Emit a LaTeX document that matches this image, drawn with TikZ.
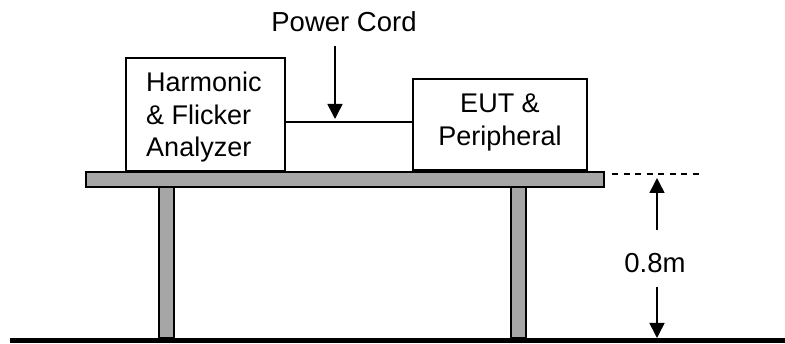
\documentclass[tikz,border=0pt]{standalone}
\usepackage{fontspec}
\setmainfont{Liberation Sans}
\usetikzlibrary{arrows.meta}
\definecolor{tablegray}{RGB}{166,166,166}
\tikzset{
  box/.style={draw=black, line width=1.6pt, fill=white, inner sep=0pt},
  lbl/.style={font=\fontsize{27}{32.5}\selectfont, inner sep=0pt},
  wood/.style={draw=black, line width=1.5pt, fill=tablegray},
  cord/.style={line width=1.4pt},
  pointer/.style={line width=1.5pt, -{Triangle[width=15pt,length=15pt]}},
}
\begin{document}
\begin{tikzpicture}[x=1pt,y=-1pt]
\useasboundingbox (0,0) rectangle (785,344);
% table
\draw[wood] (159,186) rectangle (174,338);
\draw[wood] (511,186) rectangle (526,338);
\draw[wood] (86,172) rectangle (604,187);
% ground
\draw[line width=5pt] (10,341) -- (785,341);
% boxes
\node[box, minimum width=159pt, minimum height=113pt] (ana) at (205.5,114.5) {};
\node[lbl, align=left] (anatext) at (204,117.5) {Harmonic\\\& Flicker\\Analyzer};
\node[box, minimum width=174pt, minimum height=91pt] (eut) at (500,124.5) {};
\node[lbl, align=center] (euttext) at (500,122.5) {EUT \&\\Peripheral};
% cord
\coordinate (cordL) at (285,122);
\coordinate (cordR) at (413,122);
\draw[cord] (cordL) -- (cordR);
% power cord label and arrow
\node[lbl, font=\fontsize{27.5}{32}\selectfont] (pc) at (344,22) {Power Cord};
\coordinate (pcstart) at (335,46);
\coordinate (pcend) at (335,119);
\draw[pointer] (pcstart) -- (pcend);
% height dimension
\coordinate (dashL) at (612,174);
\coordinate (dashR) at (702,174);
\draw[line width=1.3pt, dash pattern=on 6pt off 5.5pt] (dashL) -- (dashR);
\node[lbl, font=\fontsize{27.5}{32}\selectfont] (dim) at (655,263) {0.8m};
\coordinate (upstart) at (657,230);
\coordinate (uptip) at (657,178);
\coordinate (downstart) at (657,287);
\coordinate (downtip) at (657,338);
\draw[pointer] (upstart) -- (uptip);
\draw[pointer] (downstart) -- (downtip);
\end{tikzpicture}
\end{document}
